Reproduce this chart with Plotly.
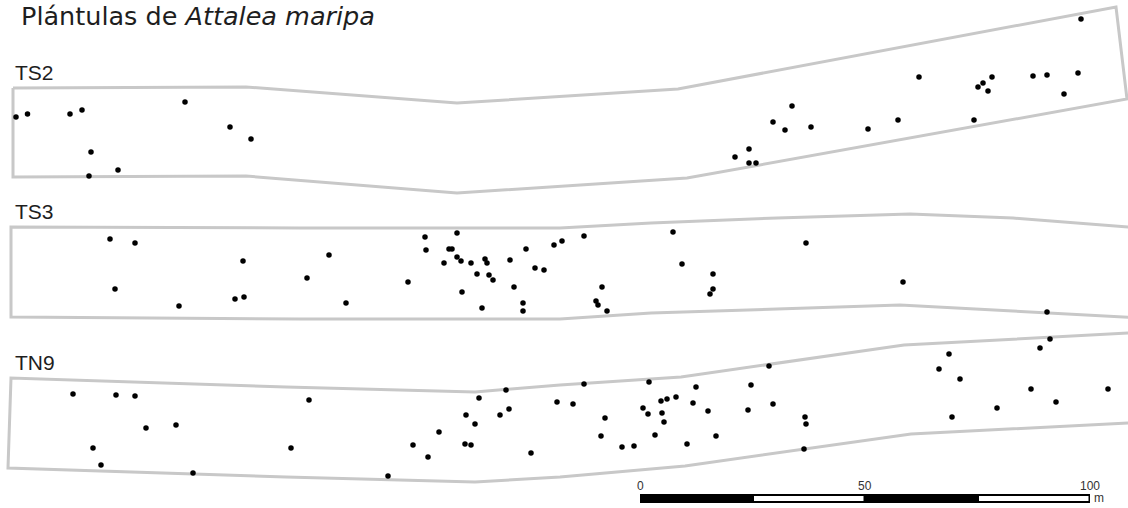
import plotly.graph_objects as go

# ---- Transect outlines (map units = screen-like map coordinates) ----
ts2_poly_x = [13, 246, 457, 678, 1116, 1127, 687, 457, 246, 13, 13]
ts2_poly_y = [88, 87, 103, 89, 7, 99, 178, 193, 176, 177, 88]

ts3_poly_x = [1140, 1128, 1013, 910, 777, 651, 560, 300, 11, 11, 300, 560, 651, 777, 900, 1013, 1128, 1140]
ts3_poly_y = [228, 227, 218, 214, 218, 223, 228, 228, 227, 317, 319, 319, 313, 309, 305, 311, 317, 318]

tn9_poly_x = [1140, 1128, 904, 681, 560, 475, 286, 11, 8, 286, 475, 560, 685, 911, 1128, 1140]
tn9_poly_y = [333, 333, 345, 377, 385, 392, 387, 378, 468, 477, 482, 477, 466, 434, 423, 423]

# ---- Seedling positions ----
ts2_x = [16, 27.5, 70, 82, 185, 230, 251, 91, 118, 89,
         1081, 919, 992, 983, 978, 988, 1033, 1047, 1078, 1064,
         792, 773, 785, 811, 868, 898, 974, 749, 735, 749, 756]
ts2_y = [117, 114, 114, 110, 102, 127, 139, 152, 170, 176,
         19, 77, 77, 83, 87, 91, 76, 75, 73, 94,
         106, 122, 130, 127, 129, 120, 120, 149, 157, 163, 163]

ts3_x = [110, 135, 115, 179, 243, 235, 244, 329, 307, 346, 408, 425, 426, 457, 449, 452,
         444, 457, 461, 471, 485, 487, 477, 489, 493, 462, 482, 514, 523, 523, 510, 526,
         535, 544, 554, 562, 584, 673, 806, 682, 713, 713, 710, 602, 596, 598, 607, 903, 1047]
ts3_y = [239, 243, 289, 306, 261, 299, 297, 255, 278, 303, 282, 237, 250, 233, 249, 249,
         263, 257, 261, 263, 259, 263, 274, 275, 280, 292, 308, 287, 303, 311, 260, 249,
         268, 270, 245, 241, 236, 232, 243, 264, 274, 289, 294, 287, 301, 305, 311, 282, 312]

tn9_x = [73, 116, 135, 146, 176, 93, 101, 193, 309, 291, 388, 413, 428, 439, 466, 479,
         475, 465, 471, 500, 509, 506, 531, 557,
         573, 584, 605, 601, 622, 634, 643, 648, 649, 661, 667, 676, 662, 664, 655, 693,
         696, 708, 716, 687, 751, 748, 769, 773, 805, 806, 804, 939, 949, 960, 952, 997,
         1031, 1040, 1050, 1056, 1108]
tn9_y = [394, 395, 396, 428, 425, 448, 465, 473, 400, 448, 476, 445, 457, 432, 415, 398,
         424, 444, 445, 415, 409, 390, 453, 402,
         404, 384, 418, 436, 447, 446, 408, 414, 382, 401, 399, 397, 413, 422, 435, 403,
         387, 411, 436, 444, 385, 410, 366, 404, 417, 424, 449, 369, 354, 379, 417, 408,
         389, 348, 339, 402, 389]

transect_labels = ["TS2", "TS3", "TN9"]
label_y = [72, 211, 362]

# ---- Scale bar (metres) ----
scale_ticks = [0, 50, 100]
scale_segments = [0, 25, 50, 75, 100]
scale_unit = "m"

title_plain = "Plántulas de "
title_italic = "Attalea maripa"

OUTLINE = "#c8c8c8"
INK = "#1e1e1e"

fig = go.Figure()
for px, py in [(ts2_poly_x, ts2_poly_y), (ts3_poly_x, ts3_poly_y), (tn9_poly_x, tn9_poly_y)]:
    fig.add_trace(go.Scatter(x=px, y=py, mode="lines",
                             line=dict(color=OUTLINE, width=3), hoverinfo="skip"))
for dx, dy in [(ts2_x, ts2_y), (ts3_x, ts3_y), (tn9_x, tn9_y)]:
    fig.add_trace(go.Scatter(x=dx, y=dy, mode="markers",
                             marker=dict(color="black", size=5.5, line=dict(width=0))))

# scale bar geometry
bar_x0, px_per_m = 640, 4.5
bar_y0, bar_y1 = 494, 503
shapes = [dict(type="rect", xref="x", yref="y",
               x0=bar_x0, x1=bar_x0 + 100 * px_per_m, y0=bar_y0, y1=bar_y1,
               fillcolor="black", line=dict(width=0))]
for i in range(len(scale_segments) - 1):
    if i % 2 == 1:
        shapes.append(dict(type="rect", xref="x", yref="y",
                           x0=bar_x0 + scale_segments[i] * px_per_m + 1.5,
                           x1=bar_x0 + scale_segments[i + 1] * px_per_m - 1.5,
                           y0=bar_y0 + 2, y1=bar_y1 - 2,
                           fillcolor="white", line=dict(width=0)))

annotations = [dict(x=19, y=1, xref="x", yref="paper", xanchor="left", yanchor="top",
                    yshift=1, text=title_plain + "<i>" + title_italic + "</i>", showarrow=False,
                    font=dict(family="DejaVu Sans", size=25.5, color=INK))]
for lab, ly in zip(transect_labels, label_y):
    annotations.append(dict(x=13, y=ly, xref="x", yref="y", xanchor="left", yanchor="middle",
                            text=lab, showarrow=False,
                            font=dict(family="Liberation Sans, Arial", size=21, color=INK)))
for t in scale_ticks:
    annotations.append(dict(x=bar_x0 + t * px_per_m, y=486, xref="x", yref="y",
                            xanchor="center", yanchor="middle", text=str(t), showarrow=False,
                            font=dict(family="Liberation Sans, Arial", size=12, color="#333")))
annotations.append(dict(x=bar_x0 + 100 * px_per_m + 2, y=498, xref="x", yref="y",
                        xanchor="left", yanchor="middle", text=scale_unit, showarrow=False,
                        font=dict(family="Liberation Sans, Arial", size=12, color="#333")))

fig.update_layout(
    width=1128, height=508,
    margin=dict(l=0, r=0, t=0, b=0),
    paper_bgcolor="white", plot_bgcolor="white",
    showlegend=False,
    xaxis=dict(range=[0, 1128], visible=False, fixedrange=True),
    yaxis=dict(range=[508, 0], visible=False, fixedrange=True),
    shapes=shapes, annotations=annotations,
)
fig.write_html("out.html", config={"displayModeBar": False},
               post_script="document.body.style.margin='0';document.body.style.padding='0';"
                           "document.body.style.overflow='hidden';")
